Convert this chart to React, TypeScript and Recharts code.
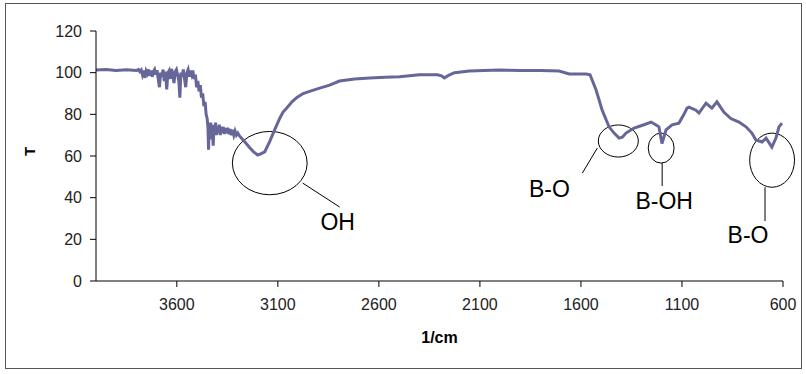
import React from 'react';
import { LineChart, Line, XAxis, YAxis, ReferenceArea, ReferenceLine, ReferenceDot } from 'recharts';

// wavenumber (1/cm) and transmittance
const wavenumbers = [
  4000, 3950, 3900, 3850, 3800, 3790, 3783, 3776, 3770, 3764, 3758, 3752, 3746, 3740, 3734, 3728, 3722, 3716,
  3710, 3704, 3698, 3692, 3686, 3680, 3674, 3668, 3662, 3656, 3650, 3644, 3638, 3632, 3626, 3620, 3614, 3608,
  3602, 3596, 3590, 3585, 3580, 3574, 3568, 3562, 3556, 3550, 3544, 3538, 3532, 3526, 3521, 3514, 3508, 3502,
  3496, 3490, 3484, 3478, 3472, 3466, 3460, 3455, 3450, 3446, 3443, 3440, 3436, 3432, 3428, 3424, 3420, 3416,
  3412, 3408, 3404, 3400, 3395, 3390, 3385, 3380, 3375, 3370, 3365, 3360, 3354, 3348, 3342, 3336, 3330, 3324,
  3318, 3312, 3305, 3298, 3289, 3265, 3239, 3220, 3200, 3185, 3165, 3140, 3116, 3091, 3075, 3056, 3030, 3007,
  2975, 2943, 2893, 2844, 2795, 2720, 2646, 2570, 2498, 2399, 2310, 2290, 2276, 2250, 2226, 2152, 2080, 2004,
  1900, 1800, 1708, 1658, 1609, 1574, 1555, 1525, 1495, 1461, 1436, 1411, 1395, 1377, 1337, 1288, 1253, 1230,
  1214, 1199, 1179, 1149, 1115, 1090, 1075, 1065, 1031, 1016, 981, 952, 927, 892, 858, 818, 783, 754,
  734, 704, 684, 655, 635, 620, 605,
];
const transmittance = [
  101.3, 101.5, 101, 101.4, 101, 101.5, 100.5, 101.3, 99, 101, 97.5, 100.8, 99.5, 101.5, 98.5, 101, 98, 100.5,
  101.5, 99, 101.2, 97, 93, 100, 98, 101.5, 96, 100.5, 92, 100, 101, 97, 101.8, 99, 95, 100.5,
  101.5, 99, 96, 88, 100, 98, 101.5, 97, 93, 100, 101.5, 98, 101, 99, 101, 97, 99, 93,
  96, 91, 94, 88, 90, 84, 86, 80, 78, 74, 63, 75, 71, 76, 68, 74, 65, 75,
  72, 76, 70, 74, 71, 75, 70, 74, 71, 74, 70.5, 73.5, 71, 73.5, 70.5, 73, 70, 72.5,
  70, 72, 70, 71, 69.5, 67, 64, 62, 60.5, 61, 62, 67, 72.5, 78, 81, 83, 86, 88,
  90, 91, 92.6, 94, 96, 97, 97.4, 97.8, 98, 99, 99, 98.5, 97.5, 99, 100, 100.8, 101, 101.3,
  101, 101, 100.8, 99.4, 99.4, 99.4, 99, 91.7, 82, 74, 71, 68.6, 69, 71, 73.4, 75, 76.3, 75,
  74, 66, 72.5, 75, 75.8, 80, 83, 83.5, 82, 80.6, 85.4, 83, 86, 81, 78, 76.3, 74, 71,
  67.7, 66.7, 68.6, 64.3, 68.6, 74, 75.8,
];

const xTicks = [3600, 3100, 2600, 2100, 1600, 1100, 600];
const yTicks = [0, 20, 40, 60, 80, 100, 120];

// band annotations: label, ellipse centre (1/cm, T), half extents (1/cm, T)
const bandNames = ['OH', 'B-O', 'B-OH', 'B-O'];
const bandCentreW = [3140, 1415, 1203, 654];
const bandCentreT = [56.6, 67.2, 63.8, 58];
const bandHalfW = [185, 99, 64, 111];
const bandHalfT = [15.2, 7.7, 7.2, 13];
// leader line ends and label anchors
const leaderFrom = [[2977, 47], [1519, 63.8], [1198, 56.6], [689, 45]];
const leaderTo = [[2794, 35.5], [1593, 51.8], [1198, 45.6], [689, 28.8]];
const labelAt = [[2804, 28.3], [1756, 44.2], [1188, 38.4], [773, 22]];

const data = wavenumbers.map((w, i) => ({ w, t: transmittance[i] }));

const EllipseShape = (p: any) => (
  <ellipse
    cx={p.x + p.width / 2}
    cy={p.y + p.height / 2}
    rx={Math.abs(p.width) / 2}
    ry={Math.abs(p.height) / 2}
    fill="none"
    stroke="#000"
    strokeWidth={1}
  />
);

const App = () => {
  return (
    <div style={{ position: 'absolute', left: 0, top: 0, width: 806, height: 374, background: '#fff' }}>
      <div
        style={{
          position: 'absolute', left: 5, top: 3, width: 795, height: 364,
          border: '1.5px solid #555',
        }}
      />
      <div style={{ position: 'absolute', left: 0, top: 0 }}>
        <LineChart
          width={806}
          height={374}
          data={data}
          margin={{ top: 31, right: 23, bottom: 29, left: 0 }}
          style={{ fontFamily: '"Liberation Sans", Arial, sans-serif' }}
        >
          <XAxis
            dataKey="w"
            type="number"
            domain={[600, 4000]}
            reversed
            ticks={xTicks}
            allowDataOverflow
            height={64}
            stroke="#000"
            tickSize={6}
            tickMargin={12}
            tick={{ fill: '#222', fontSize: 16 }}
            label={{ value: '1/cm', position: 'insideBottom', offset: 2, fill: '#000', fontSize: 16, fontWeight: 'bold' }}
          />
          <YAxis
            type="number"
            domain={[0, 120]}
            ticks={yTicks}
            width={96}
            stroke="#000"
            tickSize={6}
            tickMargin={8}
            tick={{ fill: '#222', fontSize: 16 }}
            label={{ value: 'T', angle: -90, position: 'insideLeft', offset: 30, fill: '#000', fontSize: 15, fontWeight: 'bold' }}
          />
          <Line
            dataKey="t"
            type="linear"
            stroke="#666699"
            strokeWidth={3}
            dot={false}
            isAnimationActive={false}
          />
          {bandNames.map((name, i) => (
            <ReferenceArea
              key={`e${i}`}
              x1={bandCentreW[i] + bandHalfW[i]}
              x2={bandCentreW[i] - bandHalfW[i]}
              y1={bandCentreT[i] - bandHalfT[i]}
              y2={bandCentreT[i] + bandHalfT[i]}
              ifOverflow="visible"
              shape={<EllipseShape />}
            />
          ))}
          {bandNames.map((name, i) => (
            <ReferenceLine
              key={`l${i}`}
              segment={[
                { x: leaderFrom[i][0], y: leaderFrom[i][1] },
                { x: leaderTo[i][0], y: leaderTo[i][1] },
              ]}
              stroke="#000"
              strokeWidth={1}
              ifOverflow="visible"
            />
          ))}
          {bandNames.map((name, i) => (
            <ReferenceDot
              key={`t${i}`}
              x={labelAt[i][0]}
              y={labelAt[i][1]}
              ifOverflow="visible"
              shape={(p: any) => (
                <text x={p.cx} y={p.cy} textAnchor="middle" dominantBaseline="central" fontSize={23} fill="#000">
                  {name}
                </text>
              )}
            />
          ))}
        </LineChart>
      </div>
    </div>
  );
};

export default App;
